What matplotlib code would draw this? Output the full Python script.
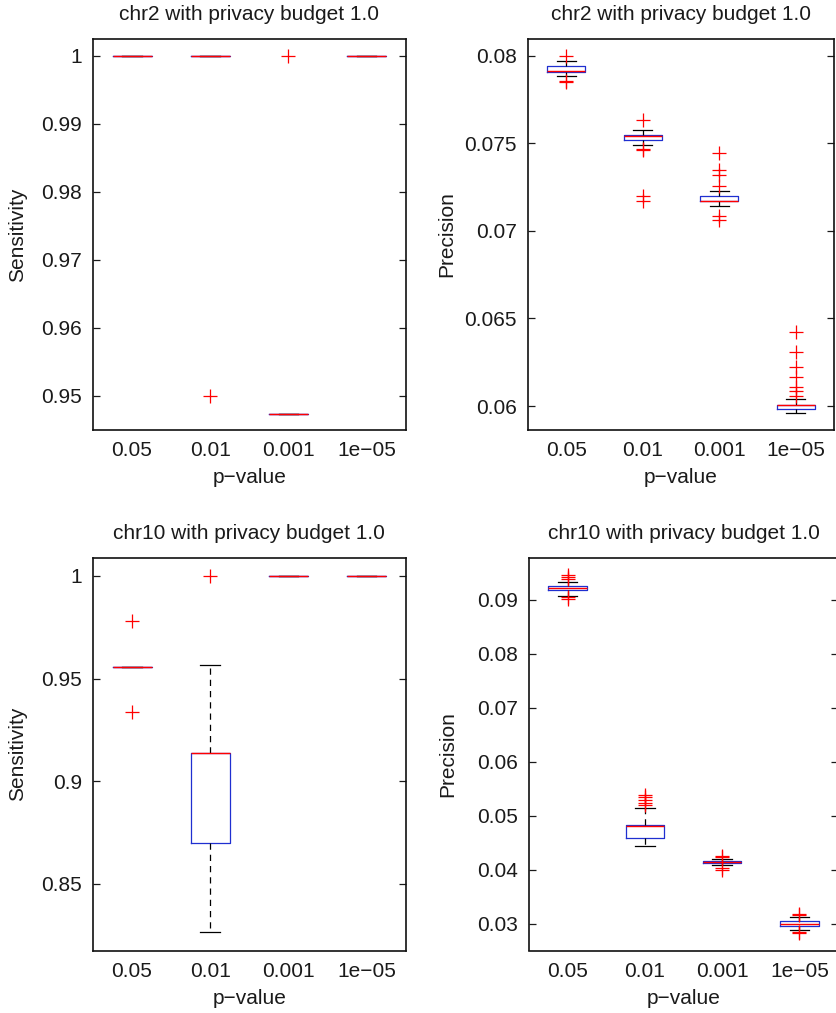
import matplotlib
matplotlib.use("Agg")
import matplotlib.pyplot as plt
from matplotlib.ticker import FormatStrFormatter, FixedLocator

plt.rcParams['font.family'] = ['Liberation Sans', 'DejaVu Sans']
plt.rcParams['font.size'] = 15

categories = ["0.05", "0.01", "0.001", "1e\u221205"]
titles = ["chr2 with privacy budget 1.0", "chr2 with privacy budget 1.0",
          "chr10 with privacy budget 1.0", "chr10 with privacy budget 1.0"]
ylabels = ["Sensitivity", "Precision", "Sensitivity", "Precision"]

# chr2 sensitivity
s2_q1 = [1.0, 1.0, 0.9474, 1.0]
s2_med = [1.0, 1.0, 0.9474, 1.0]
s2_q3 = [1.0, 1.0, 0.9474, 1.0]
s2_lo = [1.0, 1.0, 0.9474, 1.0]
s2_hi = [1.0, 1.0, 0.9474, 1.0]
s2_fl = [[], [0.950], [1.0], []]

# chr2 precision
p2_q1 = [0.07909, 0.07516, 0.07170, 0.05983]
p2_med = [0.07913, 0.07543, 0.07173, 0.06005]
p2_q3 = [0.07939, 0.07545, 0.07196, 0.06007]
p2_lo = [0.07882, 0.07488, 0.07141, 0.05958]
p2_hi = [0.07968, 0.07575, 0.07225, 0.06039]
p2_fl = [[0.0800, 0.07856, 0.07850],
         [0.07630, 0.07465, 0.07459, 0.07200, 0.07170],
         [0.07447, 0.07345, 0.07316, 0.07257, 0.07086, 0.07059],
         [0.06421, 0.06307, 0.06223, 0.06167, 0.06110, 0.06087, 0.06059]]

# chr10 sensitivity
s10_q1 = [0.9558, 0.8701, 1.0, 1.0]
s10_med = [0.9558, 0.9136, 1.0, 1.0]
s10_q3 = [0.9558, 0.9136, 1.0, 1.0]
s10_lo = [0.9558, 0.8264, 1.0, 1.0]
s10_hi = [0.9558, 0.9567, 1.0, 1.0]
s10_fl = [[0.978, 0.9337], [1.0], [], []]

# chr10 precision
p10_q1 = [0.09173, 0.04583, 0.04119, 0.02963]
p10_med = [0.0922, 0.04811, 0.0414, 0.03003]
p10_q3 = [0.0926, 0.04835, 0.04168, 0.0305]
p10_lo = [0.09062, 0.04440, 0.04082, 0.02883]
p10_hi = [0.09334, 0.05150, 0.04195, 0.0313]
p10_fl = [[0.0946, 0.0942, 0.0938, 0.0905, 0.0902],
          [0.05385, 0.05343, 0.05293, 0.05243, 0.0520],
          [0.04261, 0.0423, 0.04033, 0.03985],
          [0.0316, 0.0318, 0.0284, 0.0282]]

panels = [
    (s2_q1, s2_med, s2_q3, s2_lo, s2_hi, s2_fl),
    (p2_q1, p2_med, p2_q3, p2_lo, p2_hi, p2_fl),
    (s10_q1, s10_med, s10_q3, s10_lo, s10_hi, s10_fl),
    (p10_q1, p10_med, p10_q3, p10_lo, p10_hi, p10_fl),
]
ylims = [(0.945, 1.00246), (0.05863, 0.08095), (0.8175, 1.0087), (0.02503, 0.09773)]
yticks = [[0.95, 0.96, 0.97, 0.98, 0.99, 1.0],
          [0.06, 0.065, 0.07, 0.075, 0.08],
          [0.85, 0.9, 0.95, 1.0],
          [0.03, 0.04, 0.05, 0.06, 0.07, 0.08, 0.09]]

W, H = 836, 1013
fig = plt.figure(figsize=(W / 100, H / 100), dpi=100)
# axes rectangles in pixels (left, top, right, bottom)
rects = [(93, 39, 405.5, 430), (528, 39, 834, 430),
         (93, 558, 405.5, 950.5), (529, 558, 838, 950.5)]
ylabelpads = [10, 6, 10, 14]

txtc = '#1a1a1a'
for i, (rect, pdata) in enumerate(zip(rects, panels)):
    l, t, r, b = rect
    ax = fig.add_axes([l / W, 1 - b / H, (r - l) / W, (b - t) / H])
    q1, med, q3, lo, hi, fl = pdata
    stats = []
    for k in range(len(categories)):
        stats.append(dict(q1=q1[k], med=med[k], q3=q3[k], whislo=lo[k],
                          whishi=hi[k], fliers=fl[k], label=categories[k]))
    ax.bxp(stats, positions=[1, 2, 3, 4], widths=0.5,
           boxprops=dict(color='#1f2fd0', linewidth=0.9),
           medianprops=dict(color='red', linewidth=1.0, zorder=4),
           whiskerprops=dict(color='black', linestyle=(0, (5, 4)), linewidth=0.9),
           capprops=dict(color='black', linewidth=0.9),
           capwidths=0.25,
           flierprops=dict(marker='+', markeredgecolor='red', markersize=10,
                           markeredgewidth=0.9, linestyle='none'))
    ax.set_xlim(0.5, 4.5)
    ax.set_ylim(*ylims[i])
    ax.yaxis.set_major_locator(FixedLocator(yticks[i]))
    ax.yaxis.set_major_formatter(FormatStrFormatter('%g'))
    ax.set_xticks([1, 2, 3, 4])
    ax.set_xticklabels(categories)
    ax.tick_params(axis='y', direction='in', length=5, width=0.9, right=True,
                   pad=8, labelsize=15, colors=txtc)
    ax.tick_params(axis='x', length=0, pad=8, labelsize=15, colors=txtc)
    for sp in ax.spines.values():
        sp.set_linewidth(1.2)
        sp.set_color('#111111')
    ax.set_title(titles[i], fontsize=15, pad=14, color=txtc)
    ax.set_xlabel("p\u2212value", fontsize=15, labelpad=6, color=txtc)
    ax.set_ylabel(ylabels[i], fontsize=15, labelpad=ylabelpads[i], color=txtc)

fig.savefig("out.png", dpi=100)
